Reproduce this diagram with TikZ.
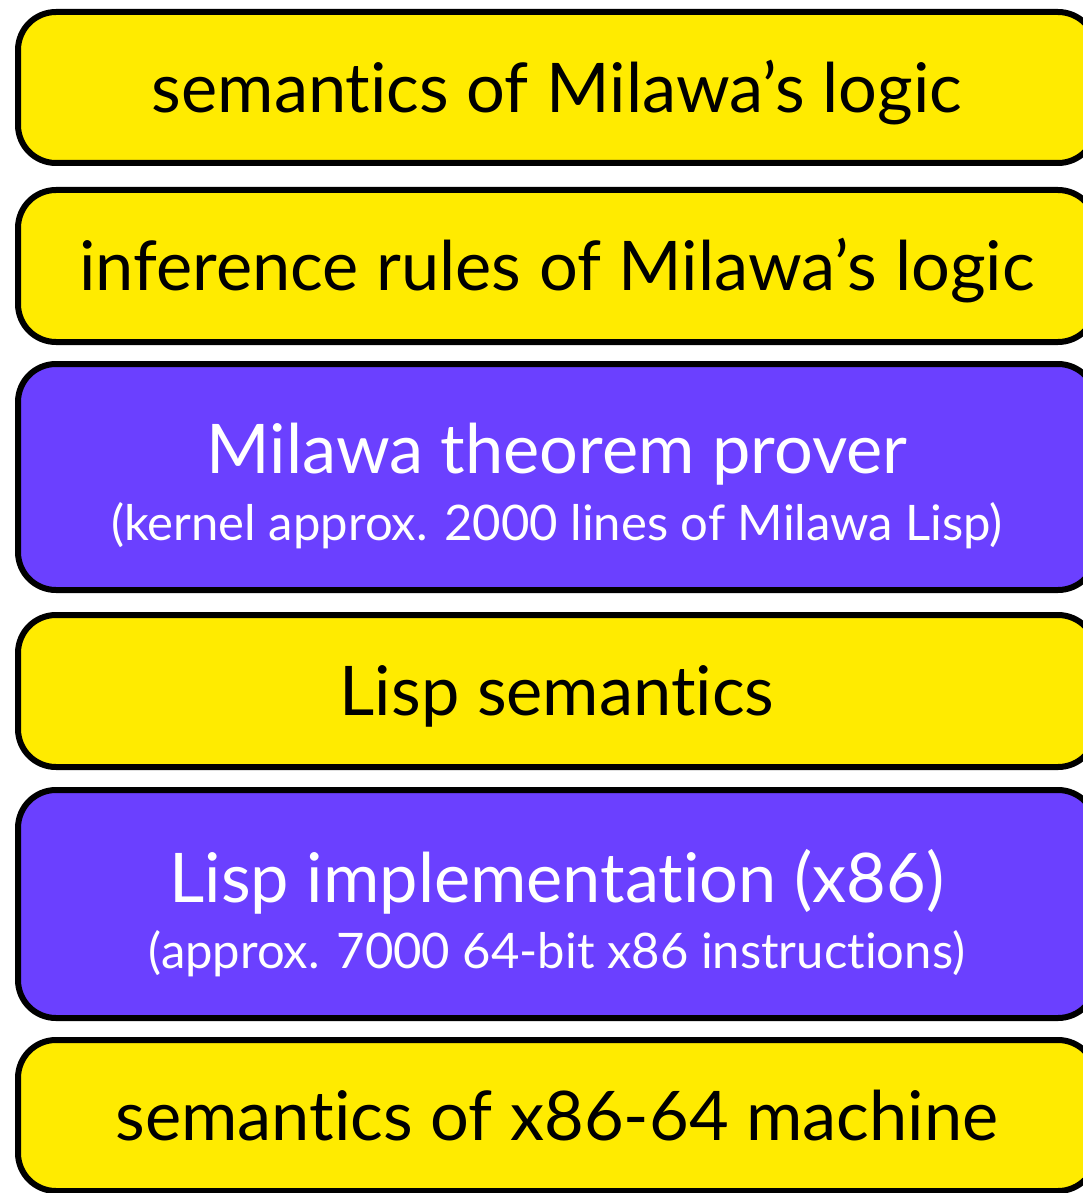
\documentclass[tikz,border=0pt]{standalone}
\usepackage{fontspec}
\setmainfont{Lato}[Ligatures=NoCommon]
\definecolor{lyellow}{HTML}{FFEB00}
\definecolor{lpurple}{HTML}{6B40FF}
\begin{document}
\begin{tikzpicture}[x=1pt,y=-1pt,
  layer/.style={draw=black, line width=6pt, rounded corners=38pt, minimum width=1078pt, inner sep=0pt},
  ylayer/.style={layer, fill=lyellow},
  player/.style={layer, fill=lpurple},
  big/.style={anchor=base, inner sep=0pt, font=\fontsize{68.5}{80}\selectfont},
  small/.style={anchor=base, inner sep=0pt, font=\fontsize{49}{56}\selectfont}]
\useasboundingbox (0,0) rectangle (1083,1193);
\node[ylayer, minimum height=151pt] (b1) at (557,87.5) {};
\node[ylayer, minimum height=152pt] (b2) at (557,266) {};
\node[player, minimum height=226pt] (b3) at (557,477) {};
\node[ylayer, minimum height=152pt] (b4) at (557,691) {};
\node[player, minimum height=228pt] (b5) at (557,904) {};
\node[ylayer, minimum height=151pt] (b6) at (557,1115.5) {};
\node[big] (t1) at (557,113) {semantics of Milawa’s logic};
\node[big] (t2) at (557,290) {inference rules of Milawa’s logic};
\node[big, text=white] (t3) at (557,473) {Milawa theorem prover};
\node[small, text=white] (s3) at (557,540) {(kernel approx. 2000 lines of Milawa Lisp)};
\node[big] (t4) at (557,715) {Lisp semantics};
\node[big, text=white] (t5) at (557,902) {Lisp implementation (x86)};
\node[small, text=white] (s5) at (557,968) {(approx. 7000 64-bit x86 instructions)};
\node[big] (t6) at (557,1140) {semantics of x86-64 machine};
\end{tikzpicture}
\end{document}
